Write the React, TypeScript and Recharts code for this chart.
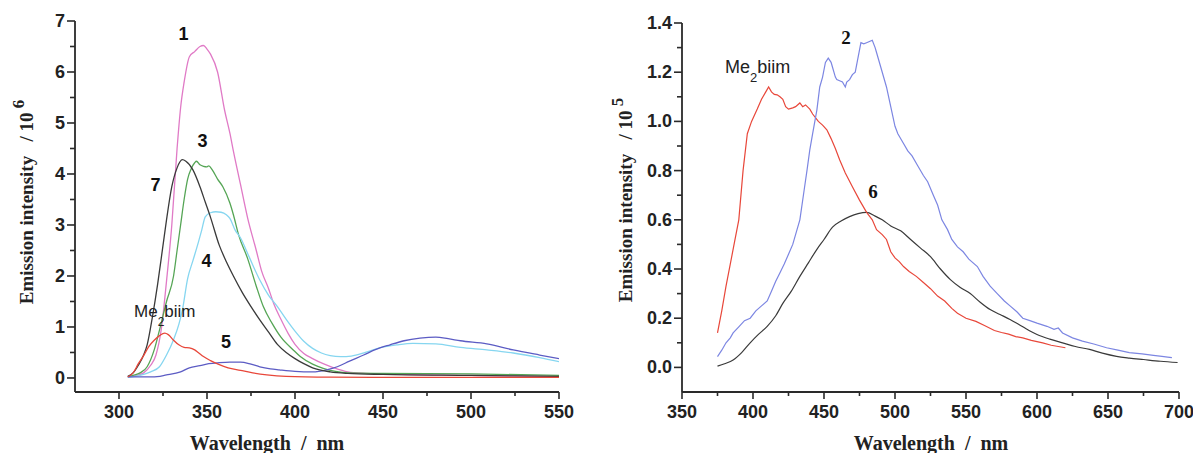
import { Line, LineChart, XAxis, YAxis } from "recharts"

// ---- left panel: spectra 1, 3, 4, 5, 7 and Me2biim (x10^6) ----
const curve1: [number, number][] = [
  [305, 0.02], [310, 0.05], [314, 0.1], [318, 0.25], [321, 0.45], [324, 0.95], [327, 1.9],
  [330, 3.0], [333, 4.5], [335, 5.3], [337, 5.8], [340, 6.3], [343, 6.4], [346, 6.5],
  [348, 6.52], [350, 6.45], [352, 6.35], [356, 6.0], [360, 5.25], [363, 4.8], [365, 4.45],
  [369, 3.8], [373, 3.15], [378, 2.5], [381, 2.1], [385, 1.75], [388, 1.45], [392, 1.15],
  [396, 0.88], [400, 0.66], [405, 0.48], [410, 0.38], [416, 0.28], [422, 0.2], [430, 0.12],
  [440, 0.09], [460, 0.07], [500, 0.05], [550, 0.03],
]
const curve3: [number, number][] = [
  [305, 0.02], [308, 0.05], [312, 0.1], [316, 0.22], [320, 0.55], [323, 0.94], [327, 1.5],
  [331, 2.0], [333, 2.5], [335, 3.0], [337, 3.5], [339, 3.9], [341, 4.1], [343, 4.22],
  [344, 4.25], [346, 4.18], [348, 4.15], [350, 4.14], [351, 4.16], [353, 4.08], [356, 3.9],
  [359, 3.75], [363, 3.43], [365, 3.2], [368, 2.8], [373, 2.35], [378, 1.8], [382, 1.4],
  [387, 1.07], [392, 0.8], [399, 0.55], [403, 0.42], [410, 0.27], [416, 0.19], [423, 0.13],
  [430, 0.1], [450, 0.09], [500, 0.08], [550, 0.05],
]
const curve4: [number, number][] = [
  [305, 0.01], [312, 0.05], [318, 0.12], [323, 0.22], [327, 0.45], [331, 0.75], [334, 1.05],
  [336, 1.33], [339, 1.95], [342, 2.3], [345, 2.65], [347, 2.9], [349, 3.16], [352, 3.24],
  [355, 3.26], [358, 3.25], [361, 3.2], [363, 3.13], [366, 2.9], [369, 2.75], [374, 2.37],
  [380, 1.92], [385, 1.62], [390, 1.4], [395, 1.15], [400, 0.92], [405, 0.72], [410, 0.58],
  [415, 0.49], [420, 0.44], [426, 0.42], [432, 0.43], [440, 0.5], [448, 0.59], [458, 0.65],
  [467, 0.68], [480, 0.67], [494, 0.6], [509, 0.55], [524, 0.49], [539, 0.4], [550, 0.32],
]
const curve5: [number, number][] = [
  [305, 0.02], [319, 0.02], [327, 0.06], [335, 0.12], [340, 0.2], [346, 0.24], [351, 0.28],
  [357, 0.3], [363, 0.31], [369, 0.31], [375, 0.27], [380, 0.22], [386, 0.18], [391, 0.16],
  [400, 0.13], [410, 0.12], [418, 0.16], [424, 0.22], [431, 0.33], [439, 0.45], [446, 0.56],
  [454, 0.65], [462, 0.73], [471, 0.78], [480, 0.8], [487, 0.77], [494, 0.73], [509, 0.67],
  [524, 0.55], [539, 0.45], [550, 0.38],
]
const curve7: [number, number][] = [
  [305, 0.03], [308, 0.1], [311, 0.25], [314, 0.45], [316, 0.65], [319, 1.2], [322, 1.85],
  [325, 2.6], [327, 3.1], [330, 3.75], [333, 4.12], [336, 4.28], [338, 4.25], [342, 4.08],
  [346, 3.75], [349, 3.45], [352, 3.15], [357, 2.6], [361, 2.28], [365, 2.0], [370, 1.68],
  [375, 1.4], [380, 1.14], [385, 0.9], [390, 0.66], [395, 0.5], [400, 0.38], [405, 0.28],
  [410, 0.2], [420, 0.12], [430, 0.09], [450, 0.07], [500, 0.05], [550, 0.03],
]
const me2biimLeft: [number, number][] = [
  [305, 0.02], [308, 0.1], [311, 0.28], [314, 0.44], [317, 0.62], [320, 0.74], [323, 0.83],
  [326, 0.88], [328, 0.85], [331, 0.74], [334, 0.65], [337, 0.6], [340, 0.59], [343, 0.55],
  [345, 0.5], [348, 0.42], [352, 0.34], [357, 0.26], [362, 0.2], [369, 0.15], [376, 0.1],
  [384, 0.06], [395, 0.03], [420, 0.015], [460, 0.01], [550, 0.01],
]

// ---- right panel: spectra 2, 6 and Me2biim (x10^5) ----
const me2biimRight: [number, number][] = [
  [375, 0.14], [378, 0.23], [381, 0.33], [384, 0.42], [387, 0.51], [390, 0.6], [393, 0.8],
  [396, 0.95], [399, 1.0], [403, 1.05], [406, 1.09], [409, 1.12], [411, 1.14], [413, 1.12],
  [415, 1.11], [417, 1.108], [419, 1.1], [421, 1.09], [423, 1.06], [425, 1.05], [428, 1.055],
  [430, 1.06], [433, 1.075], [435, 1.06], [437, 1.067], [440, 1.05], [442, 1.03], [446, 1.0],
  [449, 0.985], [452, 0.966], [455, 0.93], [458, 0.89], [461, 0.844], [465, 0.79],
  [470, 0.734], [475, 0.68], [480, 0.63], [484, 0.6], [487, 0.56], [491, 0.54], [494, 0.52],
  [497, 0.47], [500, 0.445], [503, 0.43], [506, 0.41], [510, 0.39], [515, 0.37], [520, 0.345],
  [525, 0.32], [530, 0.29], [535, 0.27], [540, 0.24], [544, 0.22], [550, 0.2], [557, 0.187],
  [563, 0.17], [570, 0.15], [575, 0.142], [580, 0.135], [585, 0.125], [590, 0.12],
  [596, 0.11], [600, 0.105], [604, 0.1], [610, 0.09], [615, 0.085], [620, 0.08],
]
const curve2: [number, number][] = [
  [375, 0.044], [378, 0.07], [381, 0.1], [384, 0.12], [386, 0.14], [390, 0.165], [394, 0.19],
  [398, 0.2], [402, 0.23], [406, 0.25], [410, 0.27], [413, 0.31], [416, 0.35], [419, 0.385],
  [422, 0.42], [425, 0.46], [428, 0.5], [431, 0.56], [433, 0.6], [436, 0.72], [438, 0.8],
  [440, 0.884], [442, 0.95], [445, 1.047], [447, 1.14], [449, 1.18], [451, 1.24], [453, 1.257],
  [455, 1.24], [456, 1.22], [458, 1.18], [459, 1.17], [461, 1.165], [463, 1.16], [465, 1.14],
  [466, 1.16], [468, 1.17], [470, 1.19], [472, 1.2], [474, 1.26], [476, 1.32], [478, 1.315],
  [480, 1.32], [482, 1.325], [484, 1.33], [486, 1.3], [487, 1.28], [490, 1.22], [494, 1.14],
  [497, 1.06], [500, 0.98], [502, 0.95], [506, 0.91], [509, 0.88], [512, 0.86], [516, 0.82],
  [520, 0.78], [523, 0.755], [527, 0.7], [530, 0.66], [533, 0.6], [537, 0.56], [540, 0.52],
  [544, 0.49], [548, 0.47], [552, 0.44], [558, 0.41], [562, 0.37], [567, 0.33], [572, 0.3],
  [577, 0.27], [581, 0.25], [586, 0.225], [590, 0.2], [595, 0.19], [600, 0.18], [607, 0.167],
  [612, 0.155], [615, 0.16], [618, 0.14], [625, 0.12], [632, 0.107], [640, 0.095], [649, 0.08],
  [657, 0.07], [665, 0.06], [674, 0.055], [682, 0.049], [688, 0.045], [692, 0.042], [695, 0.04],
]
const curve6: [number, number][] = [
  [375, 0.005], [380, 0.015], [386, 0.03], [392, 0.06], [398, 0.1], [404, 0.135], [410, 0.167],
  [416, 0.21], [421, 0.26], [427, 0.31], [433, 0.37], [439, 0.425], [445, 0.48], [450, 0.52],
  [456, 0.57], [462, 0.595], [468, 0.613], [474, 0.625], [480, 0.63], [486, 0.615], [491, 0.6],
  [497, 0.575], [504, 0.555], [511, 0.52], [518, 0.485], [525, 0.45], [532, 0.4], [539, 0.357],
  [546, 0.325], [553, 0.3], [560, 0.265], [567, 0.235], [574, 0.215], [581, 0.195], [590, 0.165],
  [600, 0.134], [609, 0.115], [618, 0.1], [627, 0.085], [637, 0.073], [646, 0.058], [656, 0.045],
  [665, 0.038], [675, 0.032], [687, 0.025], [699, 0.02],
]

const leftXTicks = [300, 325, 350, 375, 400, 425, 450, 475, 500, 525, 550]
const leftYTicks = [0, 0.5, 1, 1.5, 2, 2.5, 3, 3.5, 4, 4.5, 5, 5.5, 6, 6.5, 7]
const rightXTicks = [350, 375, 400, 425, 450, 475, 500, 525, 550, 575, 600, 625, 650, 675, 700]
const rightYTicks = [0, 0.1, 0.2, 0.3, 0.4, 0.5, 0.6, 0.7, 0.8, 0.9, 1.0, 1.1, 1.2, 1.3, 1.4]

const AXIS = "#2a2a2a"
const SANS = "'Liberation Sans', Arial, sans-serif"
const SERIF = "'Liberation Serif', 'Times New Roman', serif"

const pts = (arr: [number, number][]) => arr.map(([x, y]) => ({ x, y }))

function XTick({ x, y, payload }: any) {
  const major = payload.value % 50 === 0
  return (
    <g>
      <line x1={x} x2={x} y1={y} y2={y + (major ? 7 : 4)} stroke={AXIS} strokeWidth={1.6} />
      {major && (
        <text x={x} y={y + 26} textAnchor="middle" fontFamily={SANS} fontWeight="bold" fontSize={18} fill="#222">
          {payload.value}
        </text>
      )}
    </g>
  )
}

function makeYTick(isMajor: (v: number) => boolean, fmt: (v: number) => string) {
  return function YTick({ x, y, payload }: any) {
    const major = isMajor(payload.value)
    return (
      <g>
        <line x1={x - (major ? 8 : 5)} x2={x} y1={y} y2={y} stroke={AXIS} strokeWidth={1.6} />
        {major && (
          <text x={x - 10} y={y + 6} textAnchor="end" fontFamily={SANS} fontWeight="bold" fontSize={18} fill="#222">
            {fmt(payload.value)}
          </text>
        )}
      </g>
    )
  }
}

const LeftYTick = makeYTick((v) => Number.isInteger(v), (v) => String(v))
const RightYTick = makeYTick((v) => Math.round(v * 10) % 2 === 0, (v) => v.toFixed(1))

const seriesLeft = [
  { key: "1", data: curve1, color: "#e07ac6" },
  { key: "3", data: curve3, color: "#55a555" },
  { key: "4", data: curve4, color: "#86d6f0" },
  { key: "5", data: curve5, color: "#5c5cc4" },
  { key: "7", data: curve7, color: "#3a3a3a" },
  { key: "Me2biim", data: me2biimLeft, color: "#e8473a" },
]
const seriesRight = [
  { key: "6", data: curve6, color: "#3a3a3a" },
  { key: "Me2biim", data: me2biimRight, color: "#e8473a" },
  { key: "2", data: curve2, color: "#7c86e2" },
]

export default function App() {
  return (
    <div style={{ position: "absolute", left: 0, top: 0, width: 1193, height: 453, background: "#fff" }}>
      <div style={{ position: "absolute", left: 0, top: 0 }}>
        <LineChart width={600} height={453} margin={{ top: 21, right: 41, bottom: 0, left: 0 }}>
          <XAxis
            type="number"
            dataKey="x"
            domain={[275, 550]}
            ticks={leftXTicks}
            interval={0}
            allowDataOverflow
            height={61}
            tickSize={0}
            tickMargin={0}
            tickLine={false}
            tick={<XTick />}
            axisLine={{ stroke: AXIS, strokeWidth: 1.8 }}
          />
          <YAxis
            type="number"
            dataKey="y"
            domain={[-0.275, 7]}
            ticks={leftYTicks}
            interval={0}
            allowDataOverflow
            width={75}
            tickSize={0}
            tickMargin={0}
            tickLine={false}
            tick={<LeftYTick />}
            axisLine={{ stroke: AXIS, strokeWidth: 1.8 }}
          />
          {seriesLeft.map((s) => (
            <Line
              key={s.key}
              data={pts(s.data)}
              dataKey="y"
              type="monotone"
              stroke={s.color}
              strokeWidth={1.3}
              dot={false}
              isAnimationActive={false}
            />
          ))}
        </LineChart>
      </div>
      <div style={{ position: "absolute", left: 600, top: 0 }}>
        <LineChart width={593} height={453} margin={{ top: 23, right: 14, bottom: 0, left: 0 }}>
          <XAxis
            type="number"
            dataKey="x"
            domain={[350, 700]}
            ticks={rightXTicks}
            interval={0}
            allowDataOverflow
            height={61}
            tickSize={0}
            tickMargin={0}
            tickLine={false}
            tick={<XTick />}
            axisLine={{ stroke: AXIS, strokeWidth: 1.8 }}
          />
          <YAxis
            type="number"
            dataKey="y"
            domain={[-0.1, 1.4]}
            ticks={rightYTicks}
            interval={0}
            allowDataOverflow
            width={82}
            tickSize={0}
            tickMargin={0}
            tickLine={false}
            tick={<RightYTick />}
            axisLine={{ stroke: AXIS, strokeWidth: 1.8 }}
          />
          {seriesRight.map((s) => (
            <Line
              key={s.key}
              data={pts(s.data)}
              dataKey="y"
              type={s.key === "6" ? "monotone" : "linear"}
              stroke={s.color}
              strokeWidth={1.2}
              dot={false}
              isAnimationActive={false}
            />
          ))}
        </LineChart>
      </div>

      {/* titles and curve labels */}
      <svg width={1193} height={453} style={{ position: "absolute", left: 0, top: 0, pointerEvents: "none" }}>
        <text transform="rotate(-90 33 202)" x={33} y={202} textAnchor="middle" fontFamily={SERIF} fontWeight="bold" fontSize={19} fill="#222" style={{ whiteSpace: "pre" }}>
          {"Emission intensity   / 10"}
          <tspan dy={-9} fontSize={17}>{" 6"}</tspan>
        </text>
        <text transform="rotate(-90 632 200)" x={632} y={200} textAnchor="middle" fontFamily={SERIF} fontWeight="bold" fontSize={19} fill="#222" style={{ whiteSpace: "pre" }}>
          {"Emission intensity   / 10"}
          <tspan dy={-9} fontSize={17}>{" 5"}</tspan>
        </text>
        <text x={267} y={450} textAnchor="middle" fontFamily={SERIF} fontWeight="bold" fontSize={20} fill="#222" style={{ whiteSpace: "pre" }}>
          {"Wavelength  /  nm"}
        </text>
        <text x={931} y={450} textAnchor="middle" fontFamily={SERIF} fontWeight="bold" fontSize={20} fill="#222" style={{ whiteSpace: "pre" }}>
          {"Wavelength  /  nm"}
        </text>

        <g fontFamily={SANS} fontWeight="bold" fontSize={18} fill="#111" textAnchor="middle">
          <text x={183.5} y={40}>1</text>
          <text x={202.5} y={147}>3</text>
          <text x={155.5} y={191}>7</text>
          <text x={206.5} y={267}>4</text>
          <text x={226} y={348}>5</text>
        </g>
        <text x={134} y={317} fontFamily={SANS} fontSize={17} fill="#222">
          Me<tspan dy={9} fontSize={12}>2</tspan><tspan dy={-9}>biim</tspan>
        </text>
        <text x={725} y={73} fontFamily={SANS} fontSize={18} fill="#222">
          Me<tspan dy={9} fontSize={13}>2</tspan><tspan dy={-9}>biim</tspan>
        </text>
        <g fontFamily={SERIF} fontWeight="bold" fill="#111" textAnchor="middle">
          <text x={846} y={44} fontSize={19}>2</text>
          <text x={873} y={198} fontSize={19}>6</text>
        </g>
      </svg>
    </div>
  )
}
